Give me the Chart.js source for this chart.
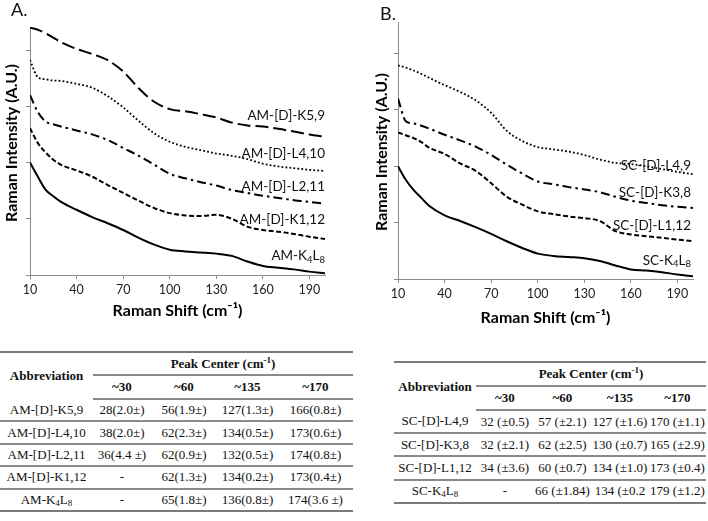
<!DOCTYPE html>
<html><head><meta charset="utf-8">
<script src="https://cdn.jsdelivr.net/npm/chart.js@4.4.0/dist/chart.umd.min.js"></script>
<style>
body{margin:0;width:708px;height:521px;background:#fff;position:relative;overflow:hidden;font-family:Lato,"Open Sans",sans-serif}
#wa{position:absolute;left:0;top:0;width:354px;height:320px}
#wb{position:absolute;left:354px;top:0;width:354px;height:340px}
.panel{position:absolute;font-family:Lato,sans-serif;font-size:18px;color:#111}
table{position:absolute;border-collapse:collapse;font-family:"Liberation Serif","Times New Roman",serif;font-size:13px;color:#111;table-layout:fixed;border-top:2px solid #7a7a7a;border-bottom:2px solid #7a7a7a}
td,th{padding:0;text-align:center;white-space:nowrap;vertical-align:middle}
th{font-weight:bold}
th.pc{border-bottom:2px solid #8a8a8a}
tr.h2 th{border-bottom:2px solid #8a8a8a}
tr.d td{border-bottom:2px solid #8a8a8a}
sub{font-size:9px;vertical-align:-2px;line-height:0}
sup{font-size:9px;vertical-align:5px;line-height:0}
</style></head>
<body>
<div id="wa"><canvas id="ca"></canvas></div>
<div id="wb"><canvas id="cb"></canvas></div>
<div class="panel" style="left:11px;top:-2px">A.</div>
<div class="panel" style="left:380px;top:2px">B.</div>
<table id="ta" style="left:0;top:351px;width:353px"></table>
<table id="tb" style="left:394px;top:361px;width:312px"></table>
<script>
// ---------- data ----------
const shift = [10,15,20,25,30,40,50,60,70,80,90,100,110,120,130,140,150,160,170,180,190,200];
const xTickValues = [10,40,70,100,130,160,190];

const namesA = ['AM-[D]-K5,9','AM-[D]-L4,10','AM-[D]-L2,11','AM-[D]-K1,12','AM-K_4L_8'];
const amK59  = [4.40,4.36,4.30,4.22,4.14,4.02,3.93,3.82,3.62,3.32,3.08,2.95,2.91,2.86,2.80,2.71,2.66,2.64,2.60,2.55,2.50,2.46];
const amL410 = [3.82,3.52,3.48,3.46,3.45,3.40,3.33,3.18,2.98,2.74,2.52,2.37,2.28,2.22,2.16,2.12,2.06,1.98,1.93,1.90,1.87,1.85];
const amL211 = [3.20,2.90,2.73,2.68,2.64,2.57,2.50,2.40,2.26,2.12,1.96,1.80,1.72,1.65,1.59,1.51,1.46,1.41,1.37,1.33,1.30,1.27];
const amK112 = [2.61,2.35,2.18,2.05,1.96,1.86,1.75,1.60,1.46,1.32,1.19,1.10,1.06,1.05,1.07,1.00,0.86,0.80,0.77,0.73,0.68,0.64];
const amK4L8 = [2.00,1.75,1.52,1.40,1.30,1.16,1.03,0.92,0.80,0.66,0.54,0.45,0.42,0.40,0.38,0.34,0.24,0.16,0.13,0.10,0.06,0.03];

const namesB = ['SC-[D]-L4,9','SC-[D]-K3,8','SC-[D]-L1,12','SC-K_4L_8'];
const scL49  = [3.79,3.75,3.70,3.64,3.57,3.44,3.32,3.17,2.95,2.63,2.45,2.34,2.30,2.26,2.20,2.12,2.06,2.04,2.00,1.95,1.90,1.86];
const scK38  = [3.20,2.80,2.76,2.72,2.67,2.56,2.46,2.35,2.20,2.03,1.87,1.73,1.68,1.63,1.59,1.54,1.46,1.39,1.35,1.31,1.28,1.26];
const scL112 = [2.60,2.55,2.50,2.43,2.33,2.22,2.05,1.92,1.70,1.46,1.32,1.20,1.15,1.11,1.08,1.03,0.85,0.79,0.76,0.73,0.70,0.67];
const scK4L8 = [2.00,1.76,1.58,1.44,1.30,1.13,1.03,0.92,0.80,0.67,0.55,0.45,0.41,0.39,0.37,0.32,0.24,0.17,0.15,0.12,0.08,0.05];

const peakCols = ['~30','~60','~135','~170'];
const rowsA = [
  ['AM-[D]-K5,9','28(2.0±)','56(1.9±)','127(1.3±)','166(0.8±)'],
  ['AM-[D]-L4,10','38(2.0±)','62(2.3±)','134(0.5±)','173(0.6±)'],
  ['AM-[D]-L2,11','36(4.4 ±)','62(0.9±)','132(0.5±)','174(0.8±)'],
  ['AM-[D]-K1,12','-','62(1.3±)','134(0.2±)','173(0.4±)'],
  ['AM-K_4L_8','-','65(1.8±)','136(0.8±)','174(3.6 ±)']
];
const rowsB = [
  ['SC-[D]-L4,9','32 (±0.5)','57 (±2.1)','127 (±1.6)','170 (±1.1)'],
  ['SC-[D]-K3,8','32 (±2.1)','62 (±2.5)','130 (±0.7)','165 (±2.9)'],
  ['SC-[D]-L1,12','34 (±3.6)','60 (±0.7)','134 (±1.0)','173 (±0.4)'],
  ['SC-K_4L_8','-','66 (±1.84)','134 (±0.2','179 (±1.2)']
];

// ---------- helpers ----------
function parseRich(s){
  const parts=[];let i=0;
  while(i<s.length){
    if(s[i]==='_'){parts.push({t:s[i+1],sub:true});i+=2;}
    else{let j=i;while(j<s.length&&s[j]!=='_')j++;parts.push({t:s.slice(i,j),sub:false});i=j;}
  }
  return parts;
}
function richHTML(s){return parseRich(s).map(p=>p.sub?'<sub>'+p.t+'</sub>':p.t).join('');}
function drawRich(ctx,s,xr,ym,font,subFont){
  const parts=parseRich(s);let w=0;
  parts.forEach(p=>{ctx.font=p.sub?subFont:font;p.w=ctx.measureText(p.t).width;w+=p.w;});
  let x=xr-w;ctx.textAlign='left';ctx.textBaseline='middle';
  parts.forEach(p=>{ctx.font=p.sub?subFont:font;ctx.fillText(p.t,x,ym+(p.sub?4:0));x+=p.w;});
}
function pts(ys){return shift.map((x,i)=>({x:x,y:ys[i]}));}

const styles = {
  longdash:{borderDash:[13,5],borderWidth:2},
  dotted:{borderDash:[1.8,2.2],borderWidth:1.8},
  dashdot:{borderDash:[9,4,2.5,4],borderWidth:2},
  dash:{borderDash:[5,2.5],borderWidth:2},
  solid:{borderDash:[],borderWidth:2}
};

function makeChart(id, series, styleKeys, names, labelYs, g){
  const overlay = {
    id:'overlay',
    afterDraw(chart){
      const ctx=chart.ctx, xs=chart.scales.x, ys=chart.scales.y, ca=chart.chartArea;
      ctx.save();
      ctx.fillStyle='#111';
      const xr=xs.getPixelForValue(200)+g.labelDx;
      names.forEach((n,i)=>drawRich(ctx,n,xr,ys.getPixelForValue(labelYs[i]),'13.5px Lato','9.5px Lato'));
      ctx.fillStyle='#000';
      ctx.font='bold 16px Lato';ctx.textAlign='center';ctx.textBaseline='middle';
      ctx.fillText('Raman Shift (cm\u207B\u00B9)',(ca.left+ca.right)/2,g.xTitleY);
      ctx.translate(g.yTitleX,g.yTitleY);ctx.rotate(-Math.PI/2);
      ctx.fillText('Raman Intensity (A.U.)',0,0);
      ctx.restore();
    }
  };
  new Chart(document.getElementById(id),{
    type:'line',
    data:{datasets:series.map((s,i)=>Object.assign({
      label:names[i],data:pts(s),borderColor:'#000',pointRadius:0,fill:false,
      cubicInterpolationMode:'monotone',borderCapStyle:'butt'
    },styles[styleKeys[i]]))},
    plugins:[overlay],
    options:{
      responsive:true,maintainAspectRatio:false,animation:false,
      layout:{padding:{left:0,right:g.padRight,top:g.padTop,bottom:0}},
      plugins:{legend:{display:false},tooltip:{enabled:false}},
      scales:{
        x:{type:'linear',min:10,max:200,
          afterBuildTicks:s=>{s.ticks=xTickValues.map(v=>({value:v}));},
          afterFit:s=>{s.height=g.xHeight;},
          ticks:{font:{family:'Lato',size:12.5},color:'#222',padding:3,maxRotation:0,autoSkip:false},
          grid:{drawOnChartArea:false,drawTicks:true,tickLength:4,color:'#8c8c8c'},
          border:{color:'#8c8c8c',width:1}},
        y:{type:'linear',min:0,max:g.yMax,
          afterBuildTicks:s=>{s.ticks=[0,1,2,3,4].map(v=>({value:v}));},
          afterFit:s=>{s.width=g.yWidth;},
          ticks:{display:false},
          grid:{drawOnChartArea:false,drawTicks:true,tickLength:4,color:'#8c8c8c'},
          border:{color:'#8c8c8c',width:1}}
      }
    }
  });
}

makeChart('ca',[amK59,amL410,amL211,amK112,amK4L8],['longdash','dotted','dashdot','dash','solid'],namesA,
  [2.84,2.15,1.57,0.98,0.34],
  {padRight:29,padTop:27,xHeight:45,yWidth:30,yMax:4.41,labelDx:0,xTitleY:311,yTitleX:12,yTitleY:143});
makeChart('cb',[scL49,scK38,scL112,scK4L8],['dotted','dashdot','dash','solid'],namesB,
  [2.01,1.54,0.94,0.33],
  {padRight:15,padTop:22,xHeight:61,yWidth:44,yMax:4.56,labelDx:-2,xTitleY:318,yTitleX:27.5,yTitleY:152});

// ---------- tables ----------
function buildTable(id, rows, widths, h1, h2, hr){
  let html='<colgroup>'+widths.map(w=>'<col style="width:'+w+'px">').join('')+'</colgroup>';
  html+='<tr style="height:'+h1+'px"><th rowspan="2">Abbreviation</th><th class="pc" colspan="4">Peak Center (cm<sup>-1</sup>)</th></tr>';
  html+='<tr class="h2" style="height:'+h2+'px">'+peakCols.map(c=>'<th>'+c+'</th>').join('')+'</tr>';
  rows.forEach((r,ri)=>{
    html+='<tr class="'+(ri<rows.length-1?'d':'')+'" style="height:'+hr+'px">'+r.map(c=>'<td>'+richHTML(c)+'</td>').join('')+'</tr>';
  });
  document.getElementById(id).innerHTML=html;
}
buildTable('ta',rowsA,[93,58,66,61,75],23,24,22.4);
buildTable('tb',rowsB,[82,58,57,58,57],24,24,23.2);
</script>
</body></html>
